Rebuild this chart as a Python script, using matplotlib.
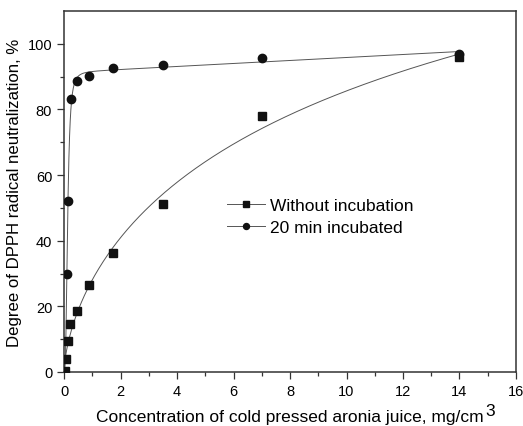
import numpy as np
import matplotlib
matplotlib.use("Agg")
import matplotlib.pyplot as plt

plt.rcParams['font.family'] = ['Liberation Sans', 'DejaVu Sans']

# Data
conc_without = [0.03, 0.08, 0.13, 0.22, 0.45, 0.88, 1.75, 3.5, 7.0, 14.0]
dpph_without = [0.4, 4.0, 9.5, 14.5, 18.6, 26.5, 36.3, 51.2, 78.0, 95.9]
conc_20min = [0.10, 0.15, 0.24, 0.47, 0.90, 1.75, 3.5, 7.0, 14.0]
dpph_20min = [30.0, 52.2, 83.2, 88.7, 90.1, 92.5, 93.6, 95.7, 96.9]

label_without = "Without incubation"
label_20min = "20 min incubated"
xlabel = "Concentration of cold pressed aronia juice, mg/cm"
ylabel = "Degree of DPPH radical neutralization, %"


def hill_fit(x, y, linear=False):
    """Least-squares Hill curve (optionally plus a linear term) through the data."""
    x = np.asarray(x, float)
    y = np.asarray(y, float)
    best = None
    for n in np.linspace(0.3, 4.0, 75):
        for k in np.logspace(-2, 1.5, 140):
            f = x**n / (k**n + x**n)
            A = np.column_stack([f, x]) if linear else f[:, None]
            coef, *_ = np.linalg.lstsq(A, y, rcond=None)
            sse = np.sum((A @ coef - y) ** 2)
            if best is None or sse < best[0]:
                best = (sse, coef, k, n)
    _, coef, k, n = best

    def model(t):
        f = t**n / (k**n + t**n)
        out = coef[0] * f
        if linear:
            out = out + coef[1] * t
        return out
    return model


fit_w = hill_fit(conc_without, dpph_without)
fit_c = hill_fit(conc_20min, dpph_20min, linear=True)
xs = np.linspace(0.0, 14.0, 3000)

fig = plt.figure(figsize=(5.23, 4.27), dpi=100)
ax = fig.add_axes([0.1224, 0.1265, 0.8642, 0.8454])

lc = '#555555'
ax.plot(xs, fit_w(xs), color=lc, lw=0.7, zorder=2)
ax.plot(xs, fit_c(xs), color=lc, lw=0.7, zorder=2)
ax.plot(conc_without, dpph_without, 's', color='#111111', ms=5.2, zorder=3)
ax.plot(conc_20min, dpph_20min, 'o', color='#111111', ms=6, zorder=3)

# legend handles
h1, = ax.plot([], [], '-s', color=lc, ms=3.8, lw=0.7, mfc='#111111', mec='#111111')
h2, = ax.plot([], [], '-o', color=lc, ms=4.3, lw=0.7, mfc='#111111', mec='#111111')
leg = ax.legend([h1, h2], [label_without, label_20min], frameon=False,
                loc='center left', bbox_to_anchor=(0.325, 0.431), fontsize=12.5,
                handlelength=2.2, handletextpad=0.3, labelspacing=0.35)

ax.set_xlim(0, 16)
ax.set_ylim(0, 110)
ax.set_xticks(np.arange(0, 17, 2))
ax.set_xticks(np.arange(1, 16, 2), minor=True)
ax.set_yticks(np.arange(0, 101, 20))
ax.set_yticks(np.arange(10, 101, 20), minor=True)
ax.tick_params(which='both', direction='out', top=False, right=False, labelsize=10.5,
               color='#333333', width=0.9)
ax.tick_params(which='major', length=5)
ax.tick_params(which='minor', length=3)
for s in ax.spines.values():
    s.set_linewidth(1.1)
    s.set_color('#333333')

ax.set_xlabel(xlabel, fontsize=12.5, labelpad=8.3)
ax.set_ylabel(ylabel, fontsize=12.1, labelpad=4)
fig.text(485 / 523, 10.5 / 427, "3", fontsize=12.5, va='baseline', ha='left')

fig.savefig("out.png", dpi=100)
